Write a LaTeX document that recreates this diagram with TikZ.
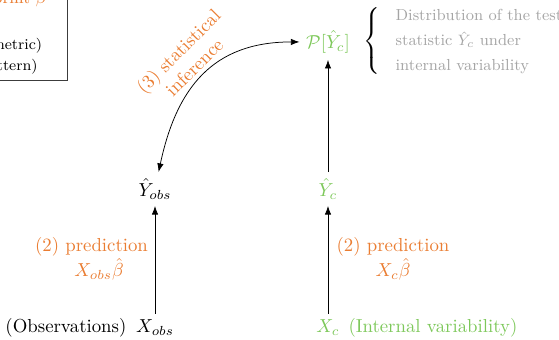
\documentclass[tikz,border=0pt]{standalone}
\usetikzlibrary{arrows.meta}
\definecolor{myorange}{RGB}{234,125,50}
\definecolor{mygreen}{RGB}{125,200,90}
\definecolor{mygrey}{RGB}{165,165,165}
\definecolor{boxline}{RGB}{60,60,60}
\begin{document}
\begin{tikzpicture}[x=0.532pt,y=0.532pt,
  arr/.style={-{Latex[length=4.6pt,width=3.4pt]}},
  dblarr/.style={{Latex[length=4.6pt,width=3.4pt]}-{Latex[length=4.6pt,width=3.4pt]}},
  orangelab/.style={text=myorange,align=center},
  greentxt/.style={text=mygreen},
  greytxt/.style={text=mygrey,align=left,font=\fontsize{8.5}{13.3}\selectfont},
  boxtext/.style={anchor=base east,inner sep=0pt,font=\fontsize{8}{10}\selectfont}]
\useasboundingbox (0,0) rectangle (559,340);
\begin{scope}
\clip (0,0) rectangle (559,340);
% legend box (partly outside the frame)
\draw[boxline] (-100,260) rectangle (67,400);
\node[boxtext,text=myorange,font=\fontsize{9}{11}\selectfont] (b1) at (47,336) {(1) estimate fingerprint $\beta$};
\node[boxtext] (b2) at (42.5,290) {(parametric)};
\node[boxtext] (b3) at (38,269) {(spatial pattern)};
% main nodes
\node[anchor=base] (Xobs) at (155,7) {$X_{obs}$};
\node[anchor=base east,inner xsep=0pt] (obstxt) at ([xshift=-1.5pt]Xobs.base west) {(Observations)};
\node[anchor=base] (Yobs) at (155,143.5) {$\hat{Y}_{obs}$};
\node[anchor=base,greentxt] (Xc) at (328,7) {$X_c$};
\node[anchor=base west,inner xsep=0pt,greentxt] (xctxt) at ([xshift=1pt]Xc.base east) {(Internal variability)};
\node[anchor=base,greentxt] (Yc) at (328,143.5) {$\hat{Y}_c$};
\node[anchor=base,greentxt] (P) at (328,291.5) {$\mathcal{P}[\hat{Y}_c]$};
% labels
\node[orangelab] (predobs) at (91.5,81) {(2) prediction\\\hspace*{8pt}$X_{obs}\hat{\beta}$};
\node[orangelab] (predc) at (393,81) {(2) prediction\\$X_c\hat{\beta}$};
\node[orangelab,rotate=45] (infer) at (186,281) {(3) statistical\\inference};
% brace and description
\node (brace) at (373,299) {$\left\{\vcenter{\hbox{\rule{0pt}{36pt}}}\right.$};
\node[greytxt,anchor=west] (desc) at (389,298) {Distribution of the test\\statistic $\hat{Y}_c$ under\\internal variability};
% connectors
\draw[arr] (Xobs) -- (Yobs);
\draw[arr] (Xc) -- (Yc);
\draw[arr] (Yc) -- (P);
\draw[dblarr] (Yobs) to[out=78,in=180,looseness=1.15] (P.west);
\end{scope}
\end{tikzpicture}
\end{document}
